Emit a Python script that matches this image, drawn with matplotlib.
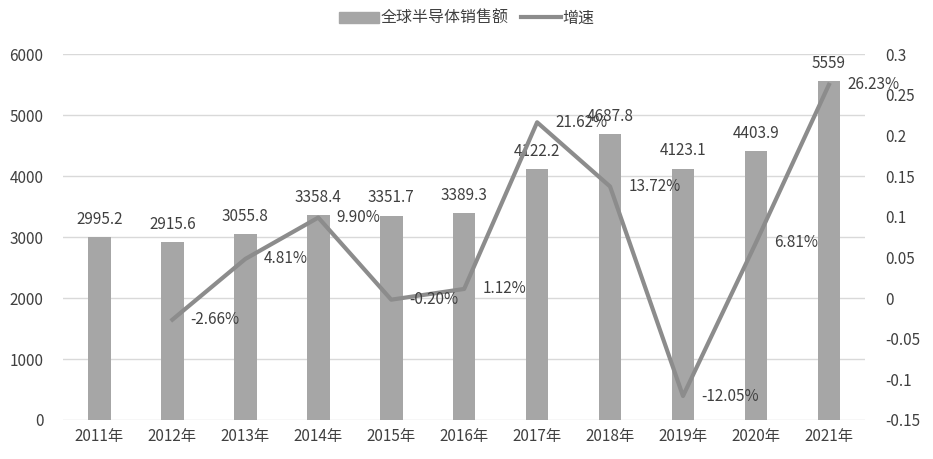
import numpy as np
import matplotlib
matplotlib.use("Agg")
from matplotlib import pyplot as plt
from matplotlib.ticker import FuncFormatter
from matplotlib.patches import Patch
from matplotlib.lines import Line2D

plt.rcParams['font.family'] = ['Noto Sans CJK SC', 'DejaVu Sans']

years = ['2011年', '2012年', '2013年', '2014年', '2015年', '2016年',
         '2017年', '2018年', '2019年', '2020年', '2021年']
sales = [2995.2, 2915.6, 3055.8, 3358.4, 3351.7, 3389.3,
         4122.2, 4687.8, 4123.1, 4403.9, 5559]
growth = [None, -0.0266, 0.0481, 0.0990, -0.0020, 0.0112,
          0.2162, 0.1372, -0.1205, 0.0681, 0.2623]
growth_labels = ['', '-2.66%', '4.81%', '9.90%', '-0.20%', '1.12%',
                 '21.62%', '13.72%', '-12.05%', '6.81%', '26.23%']

txt = '#404040'
bar_col = '#a6a6a6'
line_col = '#8c8c8c'

fig = plt.figure(figsize=(9.33, 4.59), dpi=100)
ax = fig.add_axes([0.0675, 0.085, 0.86, 0.797])
x = np.arange(len(years))

ax.bar(x, sales, width=0.31, color=bar_col, zorder=2)
for xi, v in zip(x, sales):
    s = ('%.1f' % v) if v != int(v) else str(int(v))
    ax.text(xi, v + 150, s, ha='center', va='bottom', fontsize=11, color=txt, zorder=5)

ax.set_xlim(-0.5, len(years) - 0.5)
ax.set_ylim(0, 6000)
ax.set_yticks(range(0, 6001, 1000))
ax.grid(axis='y', color='#d9d9d9', lw=1, zorder=0)
ax.set_xticks(x)
ax.set_xticklabels(years)
for sp in ax.spines.values():
    sp.set_visible(False)
ax.tick_params(axis='both', length=0, labelsize=11, labelcolor=txt)
ax.tick_params(axis='y', pad=14)
ax.tick_params(axis='x', pad=6)

ax2 = ax.twinx()
gx = [xi for xi, g in zip(x, growth) if g is not None]
gy = [g for g in growth if g is not None]
ax2.plot(gx, gy, color=line_col, lw=3, zorder=3)
ax2.set_ylim(-0.15, 0.3)
ax2.set_yticks(np.arange(-0.15, 0.3001, 0.05))
ax2.yaxis.set_major_formatter(FuncFormatter(lambda v, p: '%g' % round(v, 2)))
for sp in ax2.spines.values():
    sp.set_visible(False)
ax2.tick_params(axis='y', length=0, labelsize=11, labelcolor=txt, pad=14)

for xi, g, lab in zip(x, growth, growth_labels):
    if g is None:
        continue
    ax2.text(xi + 0.25, g, lab, ha='left', va='center', fontsize=11, color=txt, zorder=5)

handles = [Patch(color=bar_col, label='全球半导体销售额'),
           Line2D([], [], color=line_col, lw=3, label='增速')]
fig.legend(handles=handles, loc='upper center', bbox_to_anchor=(0.5, 1.01), ncol=2,
           frameon=False, fontsize=11.5, labelcolor=txt, handlelength=2.5,
           handletextpad=0.1, columnspacing=0.8)

fig.savefig('out.png', dpi=100)
